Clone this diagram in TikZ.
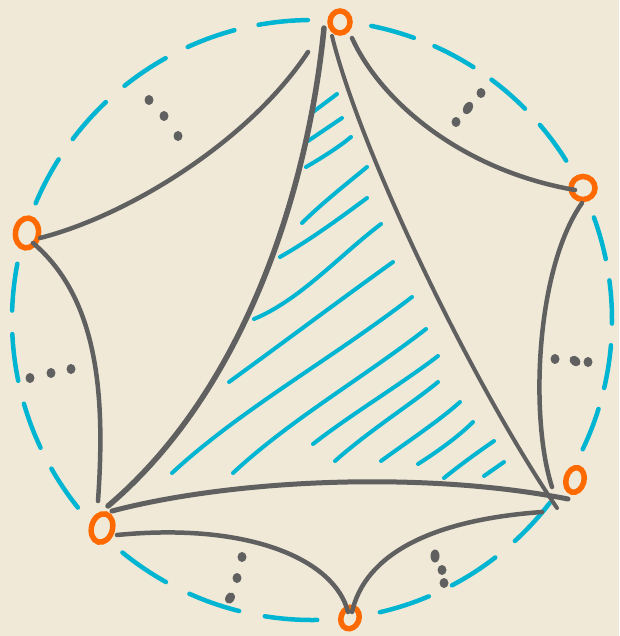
\documentclass[tikz,border=0pt]{standalone}
\usetikzlibrary{shapes.geometric}
\definecolor{bg}{HTML}{F0E9D8}
\definecolor{cy}{HTML}{00B5D1}
\definecolor{og}{HTML}{FF6A00}
\definecolor{gr}{HTML}{606060}
\begin{document}
\begin{tikzpicture}[x=1pt,y=-1pt,
  edge/.style={draw=gr,line width=4.5pt,line cap=round},
  hatch/.style={draw=cy,line width=4pt,line cap=round},
  rim/.style={draw=cy,line width=4.5pt,line cap=round},
  vtx/.style={draw=og,fill=bg,line width=5.5pt,ellipse,inner sep=0pt,outer sep=0pt},
  dotmark/.style={fill=gr,ellipse,inner sep=0pt,minimum width=9pt,minimum height=10pt}]
\fill[bg] (0,0) rectangle (619,636);
\useasboundingbox (0,0) rectangle (619,636);
% dashed circle, broken at the vertices
\coordinate (O) at (312,320);
\draw[rim,dash pattern=on 44.3pt off 22.1pt] (O) ++(-78.6:300) arc[start angle=-78.6,end angle=-32,radius=300];
\draw[rim,dash pattern=on 43.3pt off 21.7pt] (O) ++(-20:300) arc[start angle=-20,end angle=25.6,radius=300];
\draw[rim,dash pattern=on 51.5pt off 25.7pt] (O) ++(37.6:300) arc[start angle=37.6,end angle=77,radius=300];
\draw[rim,dash pattern=on 52.6pt off 26.3pt] (O) ++(89:300) arc[start angle=89,end angle=129.3,radius=300];
\draw[rim,dash pattern=on 47.1pt off 23.6pt] (O) ++(141.3:300) arc[start angle=141.3,end angle=190.9,radius=300];
\draw[rim,dash pattern=on 49.6pt off 24.8pt] (O) ++(202.9:300) arc[start angle=202.9,end angle=269.4,radius=300];
% vertices
\node[vtx,minimum width=20pt,minimum height=22pt] (A) at (340,22) {};
\node[vtx,minimum width=24pt,minimum height=23pt] (B) at (583,188) {};
\node[vtx,minimum width=18pt,minimum height=25pt,rotate=-15] (C) at (575,480) {};
\node[vtx,minimum width=18pt,minimum height=22pt,rotate=-20] (D) at (350,618) {};
\node[vtx,minimum width=21pt,minimum height=29pt,rotate=-15] (E) at (102,528) {};
\node[vtx,minimum width=23pt,minimum height=30pt,rotate=-8] (F) at (27,233) {};
% hatching
\draw[hatch] (313,112) -- (337,94);
\draw[hatch] (308,141) -- (342,118);
\draw[hatch] (306,167) .. controls (325,156) and (340,146) .. (351,137);
\draw[hatch] (302,223) .. controls (320,205) and (345,185) .. (367,167);
\draw[hatch] (280,257) .. controls (310,240) and (340,218) .. (367,198);
\draw[hatch] (254,319) .. controls (300,300) and (340,255) .. (381,224);
\draw[hatch] (229,382) .. controls (280,345) and (340,300) .. (393,262);
\draw[hatch] (172,473) .. controls (240,410) and (330,360) .. (412,297);
\draw[hatch] (233,473) .. controls (290,420) and (360,380) .. (426,329);
\draw[hatch] (313,444) .. controls (350,415) and (400,385) .. (438,356);
\draw[hatch] (335,461) .. controls (370,430) and (410,405) .. (438,382);
\draw[hatch] (381,461) .. controls (410,440) and (440,420) .. (460,402);
\draw[hatch] (418,464) .. controls (440,450) and (460,435) .. (473,422);
\draw[hatch] (444,478) .. controls (460,465) and (478,452) .. (494,441);
\draw[hatch] (484,476) -- (504,462);
% endpoints of connectors
\coordinate (aE) at (324,28);
\coordinate (aC) at (332,36);
\coordinate (aB) at (352,38);
\coordinate (aF) at (308,52);
\coordinate (bA) at (575,190);
\coordinate (bC) at (582,203);
\coordinate (cB) at (552,487);
\coordinate (cA) at (557,508);
\coordinate (cE) at (568,499);
\coordinate (cD) at (542,512);
\coordinate (dC) at (352,612);
\coordinate (dE) at (348,612);
\coordinate (eD) at (117,535);
\coordinate (eC) at (112,511);
\coordinate (eA) at (108,506);
\coordinate (eF) at (98,501);
\coordinate (fE) at (33,243);
\coordinate (fA) at (40,238);
% outer connectors
\draw[edge] (aB) .. controls (380,100) and (460,170) .. (bA);
\draw[edge] (bC) .. controls (535,270) and (530,420) .. (cB);
\draw[edge] (cD) .. controls (430,520) and (365,555) .. (dC);
\draw[edge] (dE) .. controls (335,560) and (250,522) .. (eD);
\draw[edge] (eF) .. controls (105,400) and (100,300) .. (fE);
\draw[edge] (fA) .. controls (130,215) and (250,140) .. (aF);
% triangle
\draw[edge,line width=5.5pt] (aE) .. controls (308,190) and (245,390) .. (eA);
\draw[edge,line width=4pt] (aC) .. controls (360,150) and (470,380) .. (cA);
\draw[edge,line width=5pt] (eC) .. controls (230,480) and (420,470) .. (cE);
% dots
\node[dotmark] (d1) at (149,100) {};
\node[dotmark] (d2) at (164,116) {};
\node[dotmark] (d3) at (178,136) {};
\node[dotmark] (d4) at (481,93) {};
\node[dotmark,rotate=-30,minimum height=13pt] (d5) at (468,108) {};
\node[dotmark] (d6) at (456,122) {};
\node[dotmark] (d7) at (555,359) {};
\node[dotmark,rotate=50,minimum height=12pt] (d8) at (575,361) {};
\node[dotmark] (d9) at (588,362) {};
\node[dotmark,minimum height=13pt] (d10) at (435,556) {};
\node[dotmark] (d11) at (442,570) {};
\node[dotmark] (d12) at (444,583) {};
\node[dotmark] (d13) at (242,557) {};
\node[dotmark] (d14) at (237,578) {};
\node[dotmark,rotate=-30,minimum height=12pt] (d15) at (230,598) {};
\node[dotmark] (d16) at (30,378) {};
\node[dotmark] (d17) at (51,373) {};
\node[dotmark] (d18) at (71,369) {};
\end{tikzpicture}
\end{document}
